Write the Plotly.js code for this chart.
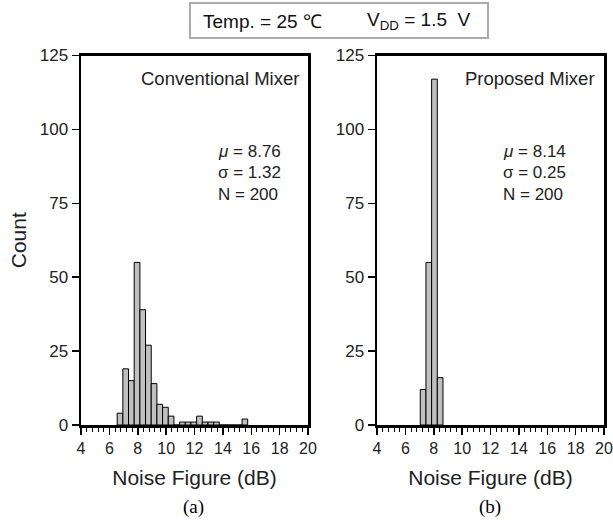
<!DOCTYPE html>
<html>
<head>
<meta charset="utf-8">
<script src="https://cdn.plot.ly/plotly-3.0.1.min.js"></script>
<style>html,body{margin:0;padding:0;background:#fff;}#chart{width:613px;height:522px;}</style>
</head>
<body>
<div id="chart"></div>
<script>
// Conventional mixer histogram (bin centers, bin width 0.4 dB)
const convCenters = [6.75, 7.15, 7.55, 7.95, 8.35, 8.75, 9.15, 9.55, 9.95, 10.35, 10.75, 11.15, 11.55, 11.95, 12.35, 12.75, 13.15, 13.55, 13.95, 14.35, 14.75, 15.15, 15.55];
const convCounts  = [4, 19, 15, 55, 39, 27, 14, 7, 6, 3, 0, 1, 1, 1, 3, 1, 1, 1, 0, 0, 0, 0, 2];
// Proposed mixer histogram
const propCenters = [7.25, 7.65, 8.05, 8.45];
const propCounts  = [12, 55, 117, 16];
const binWidth = 0.4;
const xTickVals = [4, 6, 8, 10, 12, 14, 16, 18, 20];
const yTickVals = [0, 25, 50, 75, 100, 125];
const convStats = ["<i>μ</i> = 8.76", "σ = 1.32", "N = 200"];
const propStats = ["<i>μ</i> = 8.14", "σ = 0.25", "N = 200"];

const W = 613, H = 522;
const px = x => x / W;
const py = y => 1 - y / H;

const font = "Liberation Sans, Arial, sans-serif";
const barStyle = {color: "rgb(192,192,192)", line: {color: "#000", width: 1}};

const traces = [
  {type: "bar", x: convCenters, y: convCounts, width: binWidth, marker: barStyle, xaxis: "x", yaxis: "y", showlegend: false},
  {type: "bar", x: propCenters, y: propCounts, width: binWidth, marker: barStyle, xaxis: "x2", yaxis: "y2", showlegend: false}
];

function xax(domain, anchor) {
  return {
    domain: domain, anchor: anchor, range: [4, 20], tickvals: xTickVals, ticktext: xTickVals.map(String),
    showline: true, linecolor: "#000", linewidth: 2.5, mirror: true,
    ticks: "outside", ticklen: 7, tickwidth: 1.5, tickcolor: "#000",
    minor: {dtick: 0.4, tick0: 4, ticks: "outside", ticklen: 4, tickwidth: 1, tickcolor: "#000"},
    showgrid: false, zeroline: false,
    tickfont: {family: font, size: 16, color: "#222"},
    title: {text: "Noise Figure (dB)", font: {family: font, size: 21, color: "#222"}, standoff: 15}
  };
}
function yax(domain, anchor, withTitle) {
  const a = {
    domain: domain, anchor: anchor, range: [0, 125], tickvals: yTickVals,
    showline: true, linecolor: "#000", linewidth: 2.5, mirror: true,
    ticks: "outside", ticklen: 7, tickwidth: 1.5, tickcolor: "#000",
    showgrid: false, zeroline: false,
    tickfont: {family: font, size: 17, color: "#222"}
  };
  if (withTitle) a.title = {text: "Count", font: {family: font, size: 21, color: "#222"}, standoff: 8};
  return a;
}

const yDom = [py(425), py(55.5)];
const annotations = [];
function statAnn(xpx, lines) {
  lines.forEach((t, i) => annotations.push({
    xref: "paper", yref: "paper", x: px(xpx), y: py(151 + i * 21.5), xanchor: "left", yanchor: "middle",
    text: t, showarrow: false, font: {family: font, size: 17, color: "#222"}
  }));
}
annotations.push({xref: "paper", yref: "paper", x: px(301), y: py(78), xanchor: "right", yanchor: "middle",
  text: "Conventional Mixer", showarrow: false, font: {family: font, size: 18.5, color: "#222"}});
annotations.push({xref: "paper", yref: "paper", x: px(597), y: py(78), xanchor: "right", yanchor: "middle",
  text: "Proposed Mixer", showarrow: false, font: {family: font, size: 18.5, color: "#222"}});
statAnn(216, convStats);
statAnn(501, propStats);
annotations.push({xref: "paper", yref: "paper", x: px(193), y: py(507), xanchor: "center", yanchor: "middle",
  text: "(a)", showarrow: false, font: {family: "Liberation Serif, Times New Roman, serif", size: 19, color: "#000"}});
annotations.push({xref: "paper", yref: "paper", x: px(490), y: py(507), xanchor: "center", yanchor: "middle",
  text: "(b)", showarrow: false, font: {family: "Liberation Serif, Times New Roman, serif", size: 19, color: "#000"}});
annotations.push({xref: "paper", yref: "paper", x: px(201), y: py(21), xanchor: "left", yanchor: "middle",
  text: "Temp. = 25 ℃", showarrow: false, font: {family: font, size: 19, color: "#111"}});
annotations.push({xref: "paper", yref: "paper", x: px(365), y: py(21), xanchor: "left", yanchor: "middle",
  text: "V<sub>DD</sub> = 1.5  V", showarrow: false, font: {family: font, size: 19, color: "#111"}});

const layout = {
  width: W, height: H, margin: {l: 0, r: 0, t: 0, b: 0},
  paper_bgcolor: "#fff", plot_bgcolor: "#fff", bargap: 0,
  xaxis: xax([px(81), px(308)], "y"),
  yaxis: yax(yDom, "x", true),
  xaxis2: xax([px(377), px(604)], "y2"),
  yaxis2: yax(yDom, "x2", false),
  annotations: annotations,
  shapes: [{type: "rect", xref: "paper", yref: "paper", x0: px(190), x1: px(488), y0: py(3), y1: py(38),
    line: {color: "#aaa", width: 2}, fillcolor: "rgba(0,0,0,0)"}]
};

Plotly.newPlot("chart", traces, layout, {displayModeBar: false, staticPlot: true});
</script>
</body>
</html>
